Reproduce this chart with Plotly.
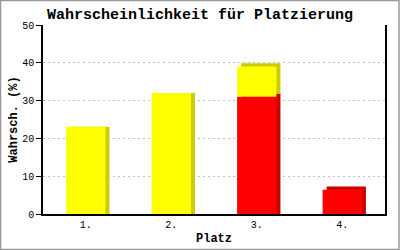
import plotly.graph_objects as go

places = ["1.", "2.", "3.", "4."]
red_vals = [0, 0, 31.0, 6.4]
yellow_vals = [23.1, 32.0, 8.0, 0]
y_ticks = [0, 10, 20, 30, 40, 50]

BAR_W = 0.46
DX = 0.047   # 3D side depth in category units (~4px)
DY = 0.85    # 3D top depth in value units (~3px)

red_shadow_y = [r + DY if r else None for r in red_vals]
yellow_shadow_base = [r + DY if r else 0 for r in red_vals]
yellow_shadow_y = [y if y else None for y in yellow_vals]

fig = go.Figure()
# shadow (side/top) faces
fig.add_bar(x=places, y=red_shadow_y, base=[0] * 4, width=BAR_W,
            offset=-BAR_W / 2 + DX, marker=dict(color="#cc0000", line_width=0),
            hoverinfo="skip", showlegend=False)
fig.add_bar(x=places, y=yellow_shadow_y, base=yellow_shadow_base,
            width=BAR_W, offset=-BAR_W / 2 + DX,
            marker=dict(color="#cccc00", line_width=0), hoverinfo="skip", showlegend=False)
# front faces
fig.add_bar(x=places, y=[r if r else None for r in red_vals], base=[0] * 4, width=BAR_W,
            offset=-BAR_W / 2, marker=dict(color="#ff0000", line_width=0),
            showlegend=False)
fig.add_bar(x=places, y=[y if y else None for y in yellow_vals], base=list(red_vals),
            width=BAR_W, offset=-BAR_W / 2, marker=dict(color="#ffff00", line_width=0),
            showlegend=False)

fig.update_layout(
    width=400, height=250, barmode="overlay",
    margin=dict(l=43, r=15, t=25, b=36, autoexpand=False),
    paper_bgcolor="white", plot_bgcolor="white",
    title=dict(text="<b>Wahrscheinlichkeit für Platzierung</b>", x=0.5, xanchor="center",
               y=1 - 14 / 250, yanchor="middle",
               font=dict(family="Liberation Mono", size=15, color="black")),
    font=dict(family="Liberation Mono", color="black"),
    shapes=[dict(type="rect", xref="paper", yref="paper", x0=-42.5 / 342, x1=1 + 14 / 342,
                 y0=-35.5 / 189, y1=1 + 24.5 / 189, line=dict(color="#999999", width=1.5),
                 layer="below")],
)
fig.update_xaxes(showgrid=False, showline=True, linecolor="black", linewidth=1.5,
                 ticks="", tickfont=dict(size=10), automargin=False,
                 title=dict(text="<b>Platz</b>", font=dict(size=12), standoff=4),
                 range=[-0.5, 3.5], zeroline=False)
fig.update_yaxes(range=[0, 50], tickvals=y_ticks, showline=True, mirror=True,
                 linecolor="black", linewidth=1.5, ticks="outside", ticklen=5,
                 tickcolor="black", tickfont=dict(size=10), automargin=False,
                 showgrid=True, gridcolor="#c0c0c0", griddash="2px,3px", gridwidth=1,
                 zeroline=False,
                 title=dict(text="<b>Wahrsch. (%)</b>", font=dict(size=12), standoff=2))

fig.write_html("out.html")
